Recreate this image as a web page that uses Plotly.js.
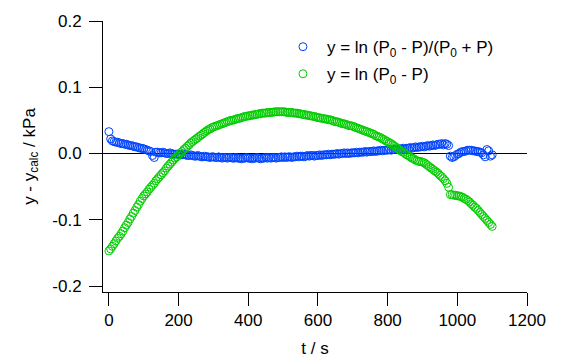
<!DOCTYPE html>
<html>
<head>
<meta charset="utf-8">
<script src="https://cdn.plot.ly/plotly-3.0.1.min.js"></script>
<style>html,body{margin:0;padding:0;background:#fff;}#chart{width:573px;height:359px;}</style>
</head>
<body>
<div id="chart"></div>
<script>
// time (s)
const tValues = [
  0,5,10,15,20,25,30,35,40,45,
  50,55,60,65,70,75,80,85,90,95,
  100,105,110,115,120,125,130,135,140,145,
  150,155,160,165,170,175,180,185,190,195,
  200,205,210,215,220,225,230,235,240,245,
  250,255,260,265,270,275,280,285,290,295,
  300,305,310,315,320,325,330,335,340,345,
  350,355,360,365,370,375,380,385,390,395,
  400,405,410,415,420,425,430,435,440,445,
  450,455,460,465,470,475,480,485,490,495,
  500,505,510,515,520,525,530,535,540,545,
  550,555,560,565,570,575,580,585,590,595,
  600,605,610,615,620,625,630,635,640,645,
  650,655,660,665,670,675,680,685,690,695,
  700,705,710,715,720,725,730,735,740,745,
  750,755,760,765,770,775,780,785,790,795,
  800,805,810,815,820,825,830,835,840,845,
  850,855,860,865,870,875,880,885,890,895,
  900,905,910,915,920,925,930,935,940,945,
  950,955,960,965,970,975,980,985,990,995,
  1000,1005,1010,1015,1020,1025,1030,1035,1040,1045,
  1050,1055,1060,1065,1070,1075,1080,1085,1090,1095,
  1100];

// y = ln (P0 - P)/(P0 + P)  residuals (kPa)
const seriesRatio = [
  0.033,0.022,0.019,0.018,0.017,0.017,0.016,0.015,0.015,0.014,
  0.014,0.013,0.012,0.012,0.011,0.010,0.010,0.009,0.008,0.008,
  0.007,0.006,0.005,0.004,0.003,-0.003,-0.006,0.002,0.002,0.001,
  0.001,0.002,0.001,0.000,0.000,0.001,0.000,-0.001,-0.001,-0.001,
  -0.001,-0.002,-0.002,-0.001,-0.002,-0.003,-0.003,-0.002,-0.003,-0.004,
  -0.004,-0.003,-0.004,-0.005,-0.005,-0.004,-0.005,-0.005,-0.006,-0.005,
  -0.005,-0.006,-0.006,-0.005,-0.006,-0.007,-0.006,-0.006,-0.007,-0.006,
  -0.006,-0.007,-0.007,-0.006,-0.007,-0.007,-0.008,-0.007,-0.007,-0.006,
  -0.007,-0.007,-0.008,-0.007,-0.007,-0.006,-0.007,-0.008,-0.007,-0.007,
  -0.006,-0.007,-0.006,-0.007,-0.006,-0.006,-0.007,-0.006,-0.006,-0.005,
  -0.006,-0.005,-0.006,-0.005,-0.005,-0.006,-0.005,-0.005,-0.004,-0.005,
  -0.004,-0.004,-0.005,-0.004,-0.003,-0.004,-0.003,-0.003,-0.004,-0.003,
  -0.003,-0.002,-0.003,-0.002,-0.002,-0.002,-0.001,-0.002,-0.001,-0.001,
  -0.001,0.000,-0.001,0.000,0.000,0.001,0.000,0.001,0.000,0.001,
  0.001,0.001,0.002,0.001,0.002,0.002,0.002,0.003,0.002,0.003,
  0.003,0.003,0.004,0.003,0.004,0.004,0.005,0.004,0.005,0.005,
  0.005,0.006,0.005,0.006,0.006,0.007,0.006,0.007,0.007,0.008,
  0.007,0.008,0.008,0.009,0.008,0.009,0.010,0.009,0.010,0.010,
  0.011,0.010,0.011,0.012,0.011,0.012,0.013,0.012,0.013,0.014,
  0.014,0.015,0.013,0.015,0.014,0.012,-0.004,-0.006,-0.005,-0.003,
  -0.001,0.000,0.002,0.003,0.003,0.004,0.005,0.005,0.005,0.004,
  0.004,0.003,0.003,0.002,0.001,-0.002,-0.005,0.006,0.004,-0.004,
  -0.002];

// y = ln (P0 - P)  residuals (kPa)
const seriesLn = [
  -0.147,-0.144,-0.140,-0.136,-0.132,-0.128,-0.125,-0.121,-0.117,-0.112,
  -0.108,-0.104,-0.099,-0.095,-0.090,-0.086,-0.081,-0.077,-0.072,-0.068,
  -0.064,-0.061,-0.058,-0.054,-0.051,-0.048,-0.045,-0.041,-0.038,-0.035,
  -0.032,-0.029,-0.026,-0.022,-0.019,-0.016,-0.013,-0.010,-0.007,-0.005,
  -0.002,0.001,0.003,0.006,0.008,0.011,0.013,0.016,0.018,0.020,
  0.022,0.024,0.026,0.028,0.030,0.032,0.034,0.036,0.037,0.039,
  0.040,0.041,0.042,0.043,0.044,0.045,0.046,0.047,0.048,0.049,
  0.050,0.050,0.051,0.052,0.053,0.053,0.054,0.055,0.056,0.056,
  0.057,0.057,0.058,0.058,0.059,0.059,0.060,0.060,0.061,0.061,
  0.061,0.062,0.062,0.062,0.062,0.063,0.063,0.063,0.063,0.063,
  0.063,0.063,0.062,0.062,0.062,0.062,0.061,0.061,0.061,0.060,
  0.060,0.059,0.059,0.058,0.058,0.057,0.057,0.056,0.056,0.055,
  0.054,0.054,0.053,0.053,0.052,0.052,0.051,0.051,0.050,0.049,
  0.048,0.048,0.047,0.046,0.045,0.045,0.044,0.043,0.042,0.042,
  0.041,0.040,0.039,0.038,0.037,0.036,0.035,0.034,0.033,0.032,
  0.031,0.030,0.029,0.027,0.026,0.025,0.024,0.022,0.021,0.019,
  0.018,0.016,0.015,0.013,0.011,0.009,0.007,0.005,0.003,0.002,
  0.000,-0.002,-0.003,-0.005,-0.007,-0.008,-0.010,-0.011,-0.012,-0.012,
  -0.013,-0.014,-0.016,-0.018,-0.020,-0.022,-0.024,-0.026,-0.028,-0.030,
  -0.033,-0.035,-0.038,-0.041,-0.045,-0.051,-0.062,-0.062,-0.063,-0.063,
  -0.064,-0.064,-0.065,-0.066,-0.068,-0.069,-0.071,-0.073,-0.076,-0.078,
  -0.081,-0.083,-0.086,-0.089,-0.092,-0.095,-0.098,-0.101,-0.104,-0.107,
  -0.110];

const seriesNames = ["y = ln (P<sub>0</sub> - P)/(P<sub>0</sub> + P)", "y = ln (P<sub>0</sub> - P)"];
const seriesColors = ["#0044ff", "#00cc00"];
const xTickVals = [0,200,400,600,800,1000,1200];
const yTickVals = [-0.2,-0.1,0.0,0.1,0.2];
const yTickLabels = ["-0.2","-0.1","0.0","0.1","0.2"];
const xTitle = "t / s";
const yTitle = "y - y<sub>calc</sub> / kPa";

const FONT = "Liberation Sans, Arial, sans-serif";

const traces = [seriesRatio, seriesLn].map((ys, i) => ({
  x: tValues, y: ys, name: seriesNames[i], type: "scatter", mode: "markers",
  legendgroup: "g" + i,
  marker: {symbol: "circle-open", size: 8, color: seriesColors[i], line: {width: 1, color: seriesColors[i]}}
}));

const layout = {
  width: 573, height: 359,
  margin: {l: 103, r: 46, t: 21, b: 67, pad: 0},
  paper_bgcolor: "#fff", plot_bgcolor: "#fff",
  font: {family: FONT, size: 17, color: "#000"},
  showlegend: true,
  legend: {x: 0.415, y: 0.97, xanchor: "left", yanchor: "top", bgcolor: "rgba(0,0,0,0)",
           itemwidth: 38, traceorder: "grouped", tracegroupgap: 2,
           font: {family: FONT, size: 17, color: "#000"}},
  xaxis: {
    range: [-17, 1200], showgrid: false, zeroline: false,
    showline: true, linecolor: "#000", linewidth: 1,
    ticks: "outside", ticklen: 13, tickcolor: "#000", tickwidth: 1,
    tickvals: xTickVals, tickfont: {family: FONT, size: 17},
    title: {text: xTitle, font: {family: FONT, size: 17}, standoff: 12}
  },
  yaxis: {
    range: [-0.209, 0.2], showgrid: false,
    zeroline: true, zerolinecolor: "#000", zerolinewidth: 1,
    showline: true, linecolor: "#000", linewidth: 1,
    ticks: "outside", ticklen: 13, tickcolor: "#000", tickwidth: 1,
    ticklabelstandoff: 4,
    tickvals: yTickVals, ticktext: yTickLabels, tickfont: {family: FONT, size: 17},
    title: {text: yTitle, font: {family: FONT, size: 17}, standoff: 12}
  }
};

Plotly.newPlot("chart", traces, layout, {staticPlot: true, displayModeBar: false});
</script>
</body>
</html>
